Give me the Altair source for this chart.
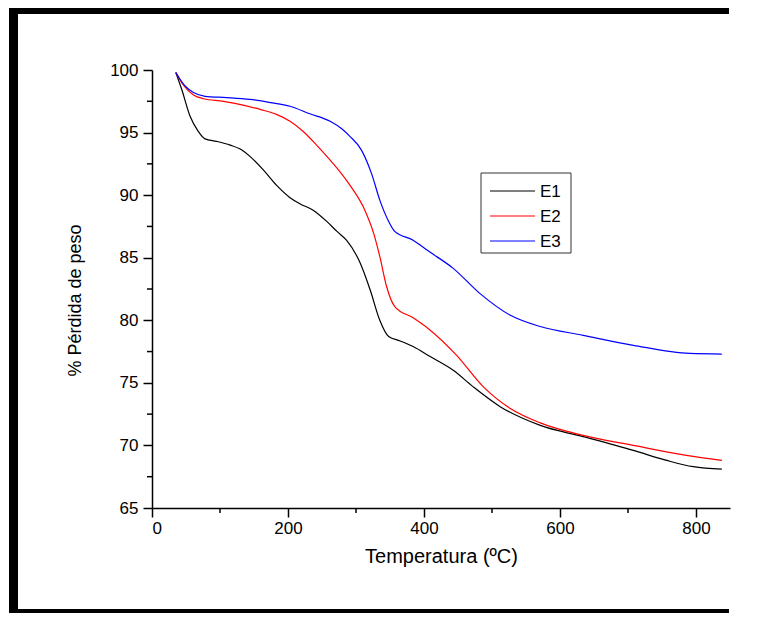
import altair as alt
import pandas as pd

# ---- data ----
E1_x = [35, 44, 56, 68, 78, 95, 115, 129, 144, 164, 183, 203, 218, 237, 257, 272, 286, 306, 321, 335, 348, 365, 384, 409, 443, 472, 512, 571, 634, 708, 757, 796, 838]
E1_y = [99.8, 98.4, 96.3, 95.1, 94.5, 94.3, 94.0, 93.7, 93.1, 92.0, 90.8, 89.8, 89.3, 88.8, 87.9, 87.1, 86.4, 84.6, 82.4, 80.0, 78.7, 78.35, 77.9, 77.1, 76.0, 74.7, 73.1, 71.6, 70.7, 69.6, 68.8, 68.3, 68.1]

E2_x = [35, 46, 61, 76, 105, 134, 159, 183, 203, 222, 242, 262, 276, 291, 313, 326, 335, 345, 357, 384, 406, 448, 487, 527, 571, 634, 708, 786, 838]
E2_y = [99.8, 98.8, 98.0, 97.7, 97.5, 97.2, 96.85, 96.45, 95.9, 95.1, 94.0, 92.8, 91.9, 90.8, 88.8, 86.95, 85.1, 82.7, 81.1, 80.2, 79.35, 77.2, 74.7, 72.95, 71.8, 70.8, 70.0, 69.2, 68.8]

E3_x = [35, 49, 61, 78, 110, 144, 174, 203, 232, 262, 279, 291, 308, 323, 335, 348, 357, 384, 406, 443, 482, 527, 571, 634, 708, 791, 838]
E3_y = [99.8, 98.7, 98.2, 97.9, 97.8, 97.65, 97.4, 97.1, 96.5, 95.9, 95.3, 94.7, 93.6, 91.7, 89.6, 87.9, 87.1, 86.4, 85.55, 84.15, 82.15, 80.4, 79.5, 78.8, 78.0, 77.35, 77.3]

series = ["E1", "E2", "E3"]
colors = ["#000000", "#ff0000", "#0000ff"]

x_major = [0, 200, 400, 600, 800]
x_minor = [100, 300, 500, 700]
y_major = [65, 70, 75, 80, 85, 90, 95, 100]
y_minor = [67.5, 72.5, 77.5, 82.5, 87.5, 92.5, 97.5]

rows = []
for name, xs, ys in zip(series, [E1_x, E2_x, E3_x], [E1_y, E2_y, E3_y]):
    for i, (a, b) in enumerate(zip(xs, ys)):
        rows.append({"serie": name, "T": a, "P": b, "i": i})
df = pd.DataFrame(rows)

FONT = "Liberation Sans"
W, H = 578, 438

xscale = alt.Scale(domain=[0, 850], nice=False, zero=False)
yscale = alt.Scale(domain=[65, 100], nice=False, zero=False)

lines = alt.Chart(df).mark_line(strokeWidth=1.2, interpolate="monotone").encode(
    x=alt.X("T:Q", scale=xscale,
            axis=alt.Axis(title="Temperatura (ºC)", values=x_major, format="d",
                          grid=False, domainColor="black", domainWidth=1.5,
                          tickColor="black", tickWidth=1.5, tickSize=9,
                          labelFont=FONT, labelFontSize=17, labelColor="black",
                          labelPadding=3, titleFont=FONT, titleFontSize=20,
                          titleFontWeight="normal", titleColor="black",
                          titlePadding=10)),
    y=alt.Y("P:Q", scale=yscale,
            axis=alt.Axis(title="% Pérdida de peso", values=y_major, format="d",
                          grid=False, domainColor="black", domainWidth=1.5,
                          tickColor="black", tickWidth=1.5, tickSize=9,
                          labelFont=FONT, labelFontSize=17, labelColor="black",
                          labelPadding=5, titleFont=FONT, titleFontSize=18,
                          titleFontWeight="normal", titleColor="black",
                          titlePadding=25, titleY=230)),
    color=alt.Color("serie:N", scale=alt.Scale(domain=series, range=colors), legend=None),
    order="i:Q",
)

ymin_df = pd.DataFrame({"v": y_minor})
xmin_df = pd.DataFrame({"v": x_minor})

ytick = alt.Chart(ymin_df).mark_rule(color="black", strokeWidth=1.5).encode(
    y=alt.Y("v:Q", scale=yscale), x=alt.value(-5), x2=alt.value(0))
xtick = alt.Chart(xmin_df).mark_rule(color="black", strokeWidth=1.5).encode(
    x=alt.X("v:Q", scale=xscale), y=alt.value(H), y2=alt.value(H + 5))

one = pd.DataFrame({"k": [0]})

# legend box, drawn by hand
leg_box = alt.Chart(one).mark_rect(fill="white", stroke="#333333", strokeWidth=1).encode(
    x=alt.value(329), x2=alt.value(419), y=alt.value(103), y2=alt.value(183))
leg_layers = [leg_box]
for k, (name, col) in enumerate(zip(series, colors)):
    yy = 121 + 25 * k
    leg_layers.append(alt.Chart(one).mark_rule(color=col, strokeWidth=1.2).encode(
        x=alt.value(338), x2=alt.value(383), y=alt.value(yy)))
    leg_layers.append(alt.Chart(one).mark_text(
        align="left", baseline="middle", font=FONT, fontSize=17, color="black").encode(
        x=alt.value(388), y=alt.value(yy + 1), text=alt.value(name)))

frame_left = alt.Chart(one).mark_rect(color="black").encode(
    x=alt.value(-143), x2=alt.value(-134), y=alt.value(-62), y2=alt.value(543))
frame_top = alt.Chart(one).mark_rect(color="black").encode(
    x=alt.value(-143), x2=alt.value(577), y=alt.value(-62), y2=alt.value(-56))
frame_bottom = alt.Chart(one).mark_rect(color="black").encode(
    x=alt.value(-143), x2=alt.value(577), y=alt.value(539), y2=alt.value(543))

chart = alt.layer(ytick, xtick, lines, *leg_layers, frame_left,
                  frame_top, frame_bottom).properties(
    width=W, height=H,
    autosize=alt.AutoSizeParams(type="none"),
    padding={"left": 144, "top": 62, "right": 32, "bottom": 105},
    background="white",
).configure_view(stroke=None)

chart.save("out.html", embed_options={"renderer": "svg", "actions": False})
